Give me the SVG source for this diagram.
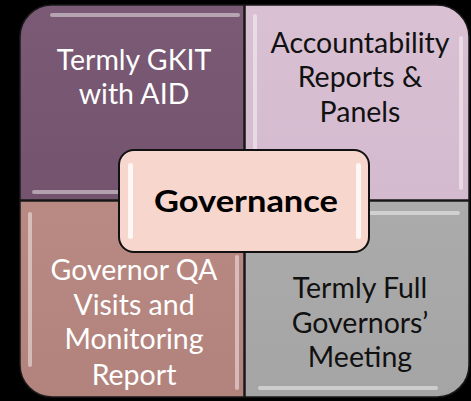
<svg xmlns="http://www.w3.org/2000/svg" width="471" height="401" viewBox="0 0 471 401">
<defs>
<style>
.q{stroke:#1a1a1a;stroke-width:1.5}
.t{font-family:Lato,"Open Sans","Liberation Sans",sans-serif;font-size:28.5px;text-anchor:middle}
.w{fill:#ffffff}
.k{fill:#111111}
.hl{fill:#ffffff;opacity:0.45}
</style>
<linearGradient id="gTL" x1="0" y1="0" x2="0" y2="1"><stop offset="0" stop-color="#7a5a74"/><stop offset="1" stop-color="#73536d"/></linearGradient>
<linearGradient id="gTR" x1="0" y1="0" x2="0" y2="1"><stop offset="0" stop-color="#d9c0d3"/><stop offset="1" stop-color="#d4bace"/></linearGradient>
<linearGradient id="gBL" x1="0" y1="0" x2="0" y2="1"><stop offset="0" stop-color="#b98a83"/><stop offset="1" stop-color="#b2837c"/></linearGradient>
<linearGradient id="gBR" x1="0" y1="0" x2="0" y2="1"><stop offset="0" stop-color="#ababab"/><stop offset="1" stop-color="#a5a5a5"/></linearGradient>
</defs>
<rect width="471" height="401" fill="#000000"/>
<g id="connectors"></g>
<g id="node-tl">
<path class="q" fill="url(#gTL)" d="M20,200 V37 A32,32 0 0 1 52,5 H244 V200 Z"/>
<rect class="hl" x="50" y="13" width="190" height="4" rx="2"/>
<rect class="hl" x="32" y="190" width="200" height="4" rx="2"/>
<text class="t w" x="134" y="70">Termly GKIT</text>
<text class="t w" x="134" y="104">with AID</text>
</g>
<g id="node-tr">
<path class="q" fill="url(#gTR)" d="M245,5 H437 A32,32 0 0 1 469,37 V200 H245 Z"/>
<rect class="hl" x="253" y="14" width="4" height="182" rx="2"/>
<rect class="hl" x="459" y="36" width="4" height="154" rx="2"/>
<text class="t k" x="360" y="53">Accountability</text>
<text class="t k" x="360" y="87">Reports &amp;</text>
<text class="t k" x="360" y="122">Panels</text>
</g>
<g id="node-bl">
<path class="q" fill="url(#gBL)" d="M20,201 H244 V397 H52 A32,32 0 0 1 20,365 Z"/>
<rect class="hl" x="28" y="212" width="4" height="155" rx="2"/>
<rect class="hl" x="235" y="255" width="4" height="135" rx="2"/>
<text class="t w" x="134" y="280">Governor QA</text>
<text class="t w" x="134" y="315">Visits and</text>
<text class="t w" x="134" y="349">Monitoring</text>
<text class="t w" x="134" y="385">Report</text>
</g>
<g id="node-br">
<path class="q" fill="url(#gBR)" d="M245,201 H469 V365 A32,32 0 0 1 437,397 H245 Z"/>
<rect class="hl" x="258" y="211" width="202" height="4" rx="2"/>
<rect class="hl" x="258" y="386" width="180" height="4" rx="2"/>
<text class="t k" x="360" y="298">Termly Full</text>
<text class="t k" x="360" y="333">Governors’</text>
<text class="t k" x="360" y="367">Meeting</text>
</g>
<g id="node-center">
<rect x="119" y="150" width="250" height="102" rx="15" fill="#f7d6cd" stroke="#111111" stroke-width="2"/>
<rect x="128" y="163" width="5" height="76" rx="2.5" fill="#ffffff" opacity="0.8"/>
<rect x="356" y="163" width="5" height="76" rx="2.5" fill="#ffffff" opacity="0.8"/>
<text x="246" y="212" textLength="184" lengthAdjust="spacingAndGlyphs" style="font-family:Lato,'Open Sans','Liberation Sans',sans-serif;font-size:31px;font-weight:bold;text-anchor:middle" fill="#000000">Governance</text>
</g>
</svg>
